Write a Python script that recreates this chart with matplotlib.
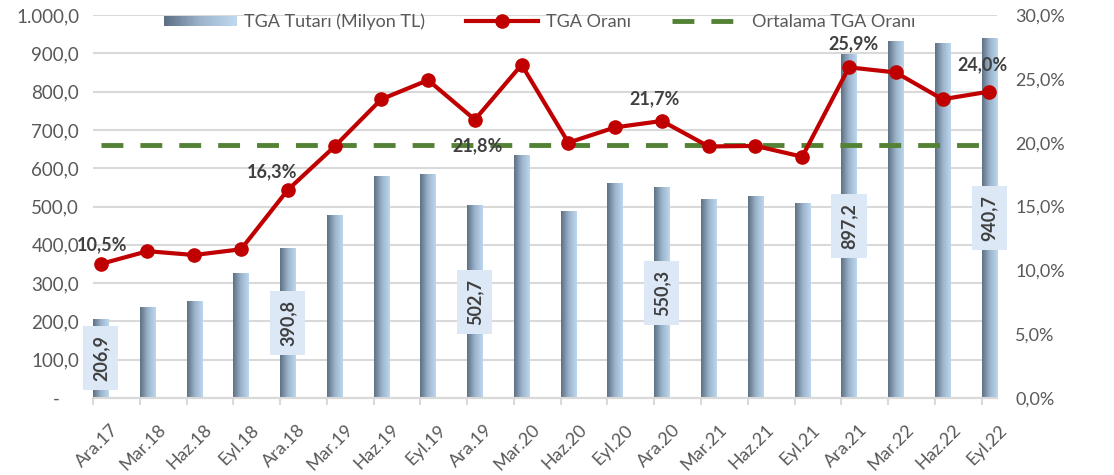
"""TGA tutarı (bar, sol eksen) ve TGA oranı (çizgi, sağ eksen) grafiği."""

import matplotlib.pyplot as plt
import matplotlib.transforms as mtransforms
import numpy as np
from matplotlib.colors import LinearSegmentedColormap
from matplotlib.legend_handler import HandlerBase
from matplotlib.lines import Line2D
from matplotlib.patches import Rectangle

plt.rcParams["font.family"] = ["Lato", "DejaVu Sans"]

periods = [
    "Ara.17", "Mar.18", "Haz.18", "Eyl.18", "Ara.18", "Mar.19", "Haz.19", "Eyl.19",
    "Ara.19", "Mar.20", "Haz.20", "Eyl.20", "Ara.20", "Mar.21", "Haz.21", "Eyl.21",
    "Ara.21", "Mar.22", "Haz.22", "Eyl.22",
]
tga_amount = [
    206.9, 237.0, 253.0, 326.0, 390.8, 478.0, 580.0, 585.0, 502.7, 634.0,
    488.0, 561.0, 550.3, 520.0, 527.0, 509.0, 897.2, 932.0, 927.0, 940.7,
]
tga_ratio = [
    10.5, 11.5, 11.2, 11.65, 16.3, 19.7, 23.4, 24.9, 21.8, 26.1,
    20.0, 21.2, 21.7, 19.7, 19.75, 18.9, 25.9, 25.5, 23.4, 24.0,
]
avg_ratio = 19.85

# which points get a value label
amount_labelled = ["Ara.17", "Ara.18", "Ara.19", "Ara.20", "Ara.21", "Eyl.22"]
ratio_labelled = ["Ara.17", "Ara.18", "Ara.19", "Ara.20", "Ara.21", "Eyl.22"]

# label offsets in points (dx, dy) for the ratio labels
ratio_label_offsets = {
    "Ara.17": (1, 14), "Ara.18": (-11, 13), "Ara.19": (2, -19),
    "Ara.20": (-5, 16), "Ara.21": (3, 17), "Eyl.22": (-5, 19),
}

RED = "#C00000"
GREEN = "#548235"
GRID = "#D9D9D9"
TICK_TXT = "#595959"
LABEL_TXT = "#404040"
BAR_DARK = "#5E7083"
BAR_LIGHT = "#BDD7EE"
BOX_FC = "#DCE8F5"
BAR_W = 0.33

bar_cmap = LinearSegmentedColormap.from_list("bar", [BAR_DARK, "#9BB4CB", BAR_LIGHT])


def tr_number(v, decimals=1):
    s = f"{v:,.{decimals}f}"
    return s.replace(",", "X").replace(".", ",").replace("X", ".")


class GradientHandler(HandlerBase):
    def create_artists(self, legend, orig_handle, xdescent, ydescent, width, height, fontsize, trans):
        n = 30
        artists = []
        h = height * 0.8
        y0 = -ydescent + (height - h) / 2
        for k in range(n):
            r = Rectangle((-xdescent + width * k / n, y0), width / n * 1.05, h,
                          fc=bar_cmap(k / (n - 1)), ec="none", transform=trans)
            artists.append(r)
        return artists


fig = plt.figure(figsize=(11.14, 4.75), dpi=100)
ax = fig.add_axes([93 / 1114, 1 - 398 / 475, (997 - 93) / 1114, (398 - 15) / 475])
ax2 = ax.twinx()

x = np.arange(len(periods))

# bars with a horizontal gradient fill
bars = ax.bar(x, tga_amount, width=BAR_W, color="none", edgecolor="none", zorder=2)
grad = np.linspace(0, 1, 64).reshape(1, -1)
for b in bars:
    img = ax.imshow(grad, cmap=bar_cmap, aspect="auto", zorder=2,
                    extent=[b.get_x(), b.get_x() + b.get_width(), 0, b.get_height()])
    img.set_clip_path(b)

for i, (p, v) in enumerate(zip(periods, tga_amount)):
    if p in amount_labelled:
        ax.text(i, v / 2, tr_number(v), rotation=90, ha="center", va="center",
                fontsize=13, fontweight="bold", color=LABEL_TXT, zorder=5,
                bbox=dict(boxstyle="square,pad=0.5", fc=BOX_FC, ec="none"))

ax.set_xlim(-BAR_W / 2, len(periods) - 1 + BAR_W / 2)
ax.set_ylim(0, 1000)
ax.set_yticks(np.arange(0, 1001, 100))
ax.set_yticklabels(["-    "] + [tr_number(v) for v in np.arange(100, 1001, 100)])
ax.yaxis.grid(True, color=GRID, lw=1.5)
ax.set_axisbelow(True)

ax.set_xticks(x)
ax.set_xticklabels(periods, rotation=45, ha="right", rotation_mode="anchor")
ax.set_xticks(x - BAR_W / 2, minor=True)
ax.tick_params(axis="x", which="major", length=0, pad=17, labelsize=13, labelcolor=TICK_TXT)
ax.tick_params(axis="x", which="minor", length=5, width=1.5, color=GRID, direction="out")
ax.tick_params(axis="y", length=0, pad=10, labelsize=13.5, labelcolor=TICK_TXT)
shift = mtransforms.ScaledTranslation(7 / 72, 0, fig.dpi_scale_trans)
for lbl in ax.get_xticklabels():
    lbl.set_transform(lbl.get_transform() + shift)

# ratio lines on the secondary axis
ax2.plot([x[0], x[-1]], [avg_ratio, avg_ratio], color=GREEN, lw=3.5,
         dashes=(4.5, 3.5), zorder=3)
ax2.plot(x, tga_ratio, color=RED, lw=3, marker="o", ms=9.5, zorder=4)
for i, (p, v) in enumerate(zip(periods, tga_ratio)):
    if p in ratio_labelled:
        dx, dy = ratio_label_offsets[p]
        ax2.annotate(tr_number(v) + "%", (i, v), xytext=(dx, dy), textcoords="offset points",
                     ha="center", va="center", fontsize=13, fontweight="bold",
                     color=LABEL_TXT, zorder=6)

ax2.set_ylim(0, 30)
ax2.set_yticks(np.arange(0, 31, 5))
ax2.set_yticklabels([tr_number(v) + "%" for v in np.arange(0, 31, 5)])
ax2.tick_params(axis="y", length=0, pad=13, labelsize=13, labelcolor=TICK_TXT)

for a in (ax, ax2):
    for side in ("top", "left", "right"):
        a.spines[side].set_visible(False)
    a.spines["bottom"].set_color(GRID)
    a.spines["bottom"].set_linewidth(1.5)

handles = [
    Rectangle((0, 0), 1, 1),
    Line2D([], [], color=RED, lw=3, marker="o", ms=9.5),
    Line2D([], [], color=GREEN, lw=3.5, dashes=(4.5, 3.5)),
]
labels = ["TGA Tutarı (Milyon TL)", "TGA Oranı", "Ortalama TGA Oranı"]
ax.legend(handles, labels, handler_map={Rectangle: GradientHandler()},
          loc="center", bbox_to_anchor=(0.494, 1 - 7 / 383), ncol=3, frameon=False,
          fontsize=13, labelcolor=TICK_TXT, handlelength=4.0, handletextpad=0.4,
          columnspacing=2.3)

fig.savefig("out.png", dpi=100)
